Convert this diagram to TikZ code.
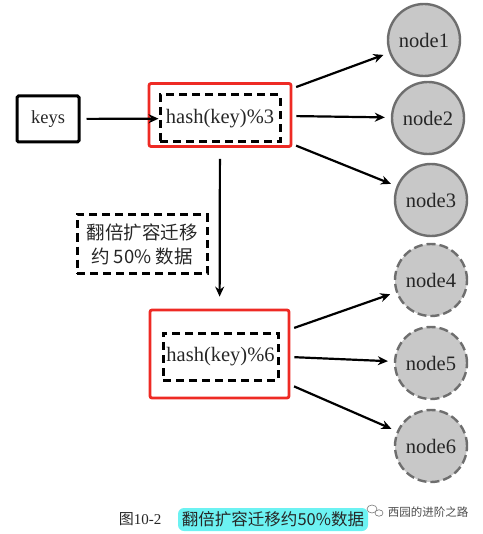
\documentclass[tikz,border=0pt]{standalone}
\usepackage{fontspec}
\setmainfont{Liberation Serif}
\newfontfamily\cjk{Noto Sans CJK SC}
\usetikzlibrary{arrows.meta}
\definecolor{redbox}{HTML}{EE2A24}
\definecolor{nodefill}{HTML}{C8C8C8}
\definecolor{nodeline}{HTML}{6E6E6E}
\definecolor{hl}{HTML}{6CF2F2}
\tikzset{
  lbl/.style={font=\rmfamily\fontsize{20.5}{22}\selectfont, text=black!85},
  solidbox/.style={draw=black, line width=3pt, rounded corners=1.5pt, lbl, inner sep=0pt},
  dashbox/.style={draw=black, line width=3pt, dash pattern=on 8pt off 5pt, lbl, inner sep=0pt},
  redframe/.style={draw=redbox, line width=2.8pt, rounded corners=2pt, inner sep=0pt},
  server/.style={circle, draw=nodeline, fill=nodefill, line width=2.4pt, minimum size=72pt, inner sep=0pt, lbl},
  newserver/.style={server, dash pattern=on 9pt off 4pt},
  arrow/.style={line width=2.2pt, -{Stealth[length=10pt,width=9pt]}},
}
\begin{document}
\begin{tikzpicture}[x=1pt,y=-1pt]
\useasboundingbox (0,0) rectangle (482,534);
% keys
\node[solidbox, minimum width=62pt, minimum height=46pt, font=\rmfamily\fontsize{18.5}{20}\selectfont] (keys) at (48,119) {keys};
% first hash
\node[redframe, minimum width=142pt, minimum height=63pt] (r1) at (220,115) {};
\node[dashbox, minimum width=120pt, minimum height=47pt] (h1) at (220,118.5) {hash(key)\%3};
% second hash
\node[redframe, minimum width=139pt, minimum height=88pt] (r2) at (219.5,354) {};
\node[dashbox, minimum width=115pt, minimum height=47pt] (h2) at (220.5,356.5) {hash(key)\%6};
% label
\node[dashbox, minimum width=130pt, minimum height=59pt, align=center,
      font=\cjk\fontsize{18.5}{24}\selectfont] (note) at (142,244) {翻倍扩容迁移\\约 50\% 数据};
% servers
\node[server] (n1) at (424,40) {node1};
\node[server] (n2) at (428,118) {node2};
\node[server] (n3) at (431,200) {node3};
\node[newserver] (n4) at (431,280) {node4};
\node[newserver] (n5) at (431,363) {node5};
\node[newserver] (n6) at (431,446) {node6};
% arrows
\draw[arrow, shorten <=6pt] (keys) -- (h1);
\draw[arrow, shorten <=11pt, shorten >=12pt] (r1) -- (r2);
\foreach \n in {n1,n2,n3}{\draw[arrow, shorten <=4pt, shorten >=6pt] (r1) -- (\n);}
\foreach \n in {n4,n5,n6}{\draw[arrow, shorten <=4pt, shorten >=6pt] (r2) -- (\n);}
% caption
\node[font=\cjk\fontsize{15}{17}\selectfont, text=black!85] (cap) at (140,519) {图\fontspec{Liberation Serif}10-2};
\node[fill=hl, rounded corners=6pt, minimum width=190pt, minimum height=23pt, inner sep=0pt,
      font=\cjk\fontsize{16.5}{18}\selectfont, text=black!85] (capt) at (273,519.5) {翻倍扩容迁移约50\%数据};
% watermark
\draw[black!55, line width=0.6pt] (372,509) ellipse (5pt and 4pt);
\draw[black!55, line width=0.6pt, fill=white] (379,513) ellipse (4pt and 3.2pt);
\node[font=\cjk\fontsize{11.5}{13}\selectfont, text=black!70] (wm) at (428,512) {西园的进阶之路};
\end{tikzpicture}
\end{document}
